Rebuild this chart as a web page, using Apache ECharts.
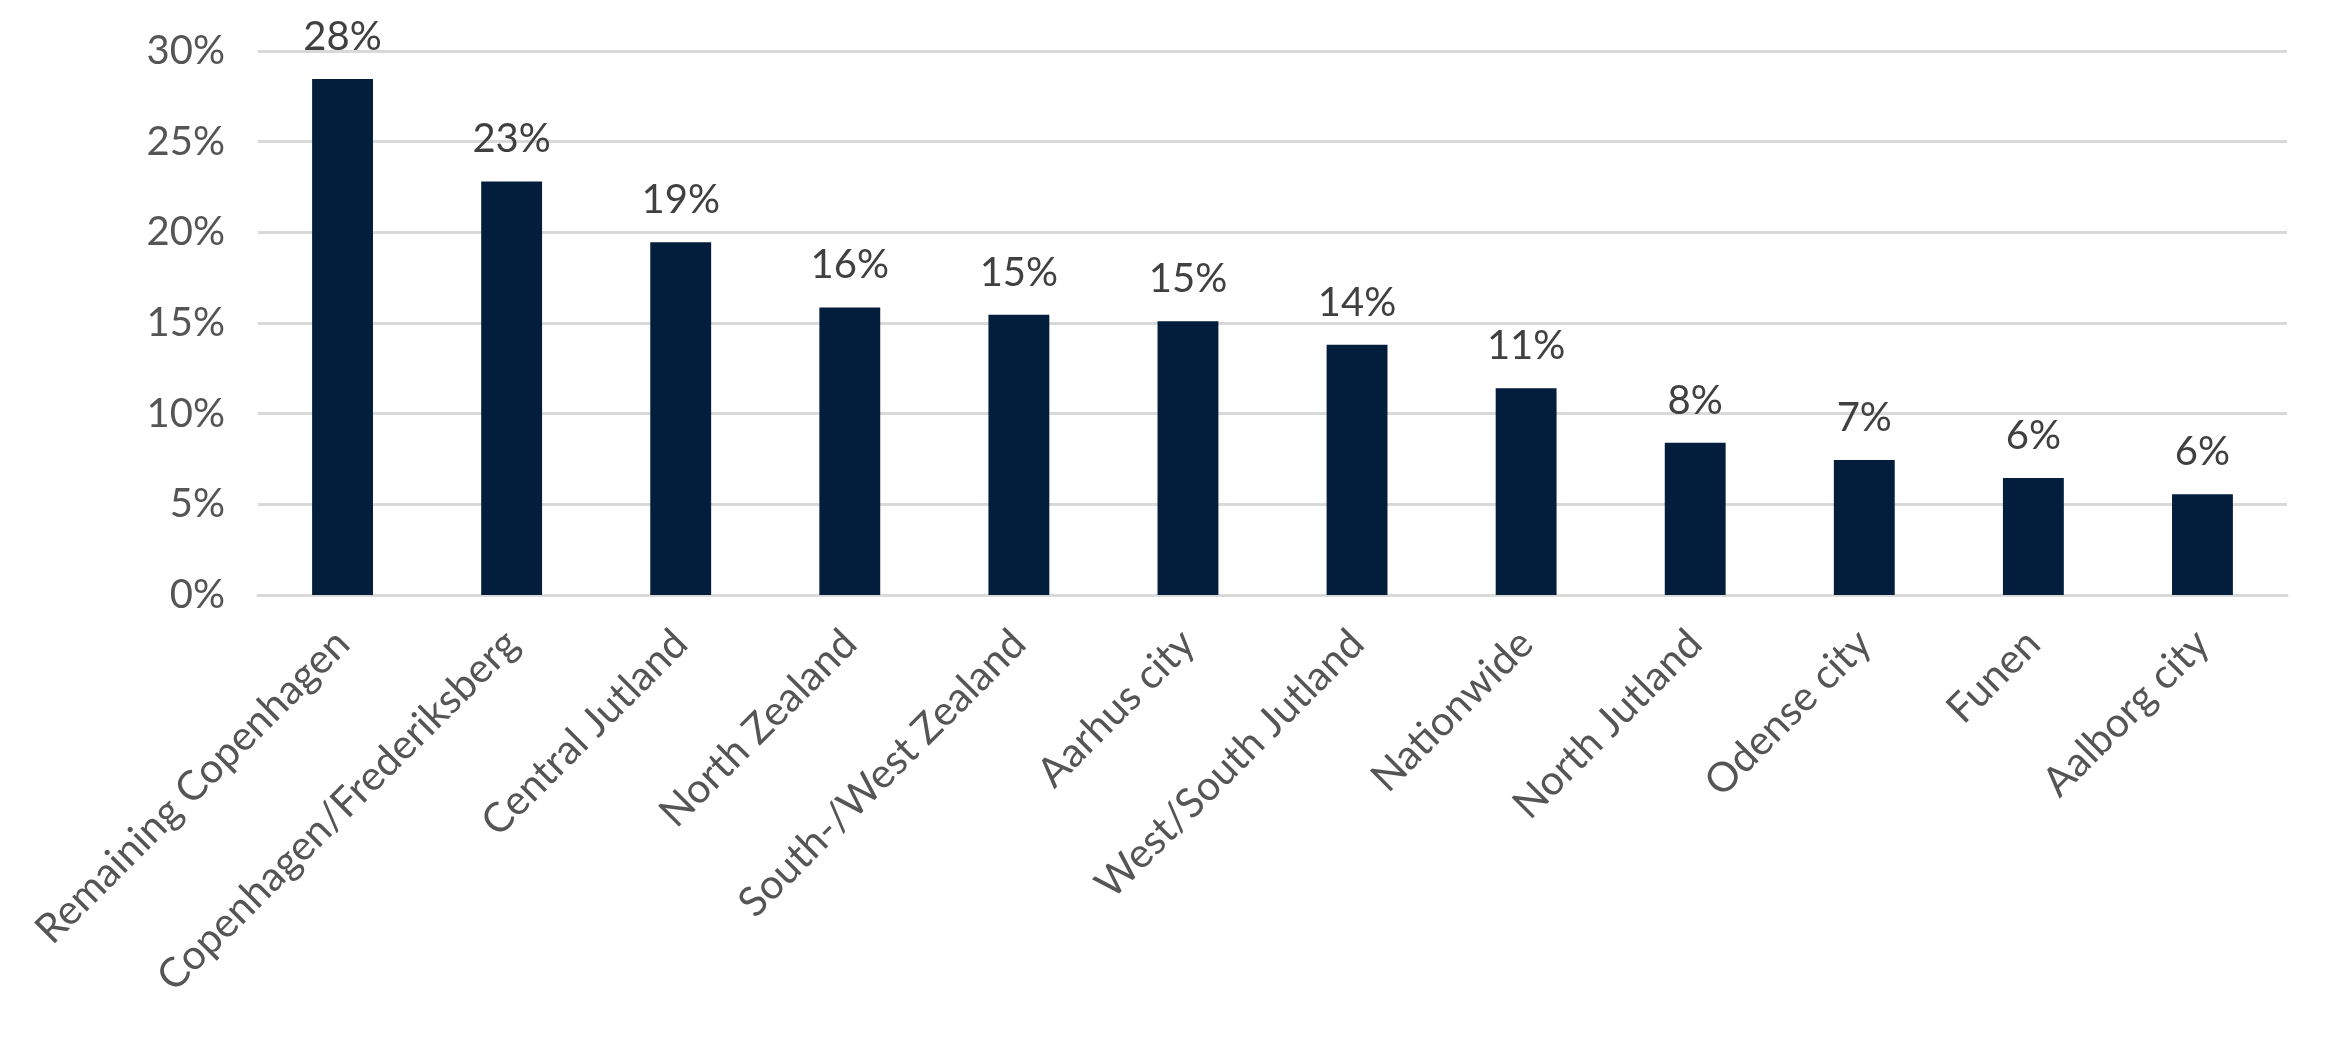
<!DOCTYPE html>
<html>
<head>
<meta charset="utf-8">
<script src="https://cdn.jsdelivr.net/npm/echarts@6/dist/echarts.min.js"></script>
<style>html,body{margin:0;padding:0;background:#fff}#c{width:2339px;height:1040px}</style>
</head>
<body>
<div id="c"></div>
<script>
const categories = ["Remaining Copenhagen","Copenhagen/Frederiksberg","Central Jutland","North Zealand","South-/West Zealand","Aarhus city","West/South Jutland","Nationwide","North Jutland","Odense city","Funen","Aalborg city"];
const values = [28.45, 22.8, 19.45, 15.85, 15.45, 15.1, 13.8, 11.4, 8.4, 7.45, 6.45, 5.55];
const yTicks = {min: 0, max: 30, interval: 5};

const chart = echarts.init(document.getElementById('c'));
chart.setOption({
  animation: false,
  grid: {left: 258, right: 52, top: 51, bottom: 445, containLabel: false},
  xAxis: {
    type: 'category', data: categories,
    axisLine: {show: true, lineStyle: {color: '#d9d9d9', width: 3}},
    axisTick: {show: false},
    axisLabel: {rotate: 45, margin: 42, color: '#555555', fontFamily: 'Lato', fontSize: 41, interval: 0}
  },
  yAxis: {
    type: 'value', min: yTicks.min, max: yTicks.max, interval: yTicks.interval,
    axisLine: {show: false}, axisTick: {show: false},
    splitLine: {lineStyle: {color: '#d9d9d9', width: 3}},
    axisLabel: {formatter: v => v + '%', margin: 33, color: '#555555', fontFamily: 'Lato', fontSize: 40}
  },
  series: [{
    type: 'bar', data: values, barWidth: '36%',
    itemStyle: {color: '#021e3c'},
    label: {show: true, position: 'top', distance: 22, color: '#404040', fontFamily: 'Lato', fontSize: 40,
      formatter: p => Math.round(p.value) + '%'}
  }]
});
</script>
</body>
</html>
